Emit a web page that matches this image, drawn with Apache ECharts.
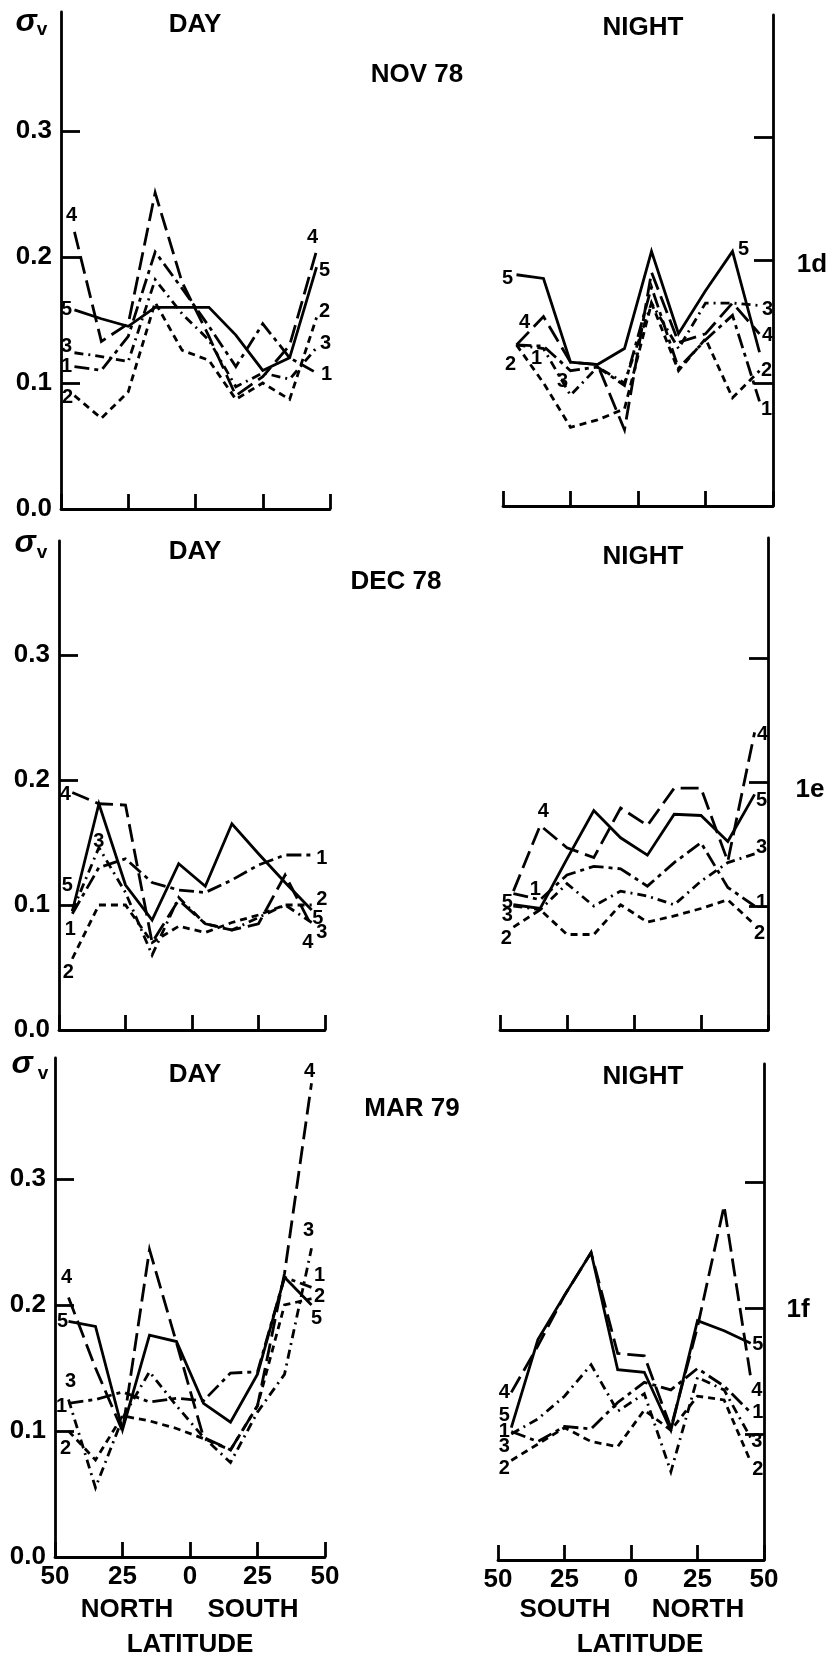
<!DOCTYPE html>
<html><head><meta charset="utf-8">
<script src="https://cdn.jsdelivr.net/npm/echarts@6/dist/echarts.min.js"></script>
<style>html,body{margin:0;padding:0;background:#fff}#c{width:834px;height:1659px}</style>
</head><body><div id="c"></div>
<script>
// ---------------- DATA ----------------
const latitudes = [-45, -35, -25, -15, -5, 5, 15, 25, 35, 45];
const seriesNames = ['1', '2', '3', '4', '5'];
const yTickLabels = [0, 0.1, 0.2, 0.3];
const yTickMarks = [0.1, 0.2, 0.3];
const xTickValues = [-50, -25, 0, 25, 50];
const columnTitles = ['DAY', 'NIGHT'];
const monthTitles = ['NOV 78', 'DEC 78', 'MAR 79'];
const figureTags = ['1d', '1e', '1f'];
const hemisDay = ['NORTH', 'SOUTH'];
const hemisNight = ['SOUTH', 'NORTH'];
const xAxisTitle = 'LATITUDE';
const yAxisSymbol = 'σ';
const yAxisSub = 'v';

// sigma_v per series 1..5, at the latitudes above
const novDay = [
  [0.113, 0.110, 0.137, 0.204, 0.175, 0.145, 0.113, 0.147, 0.120, 0.108],
  [0.090, 0.072, 0.093, 0.164, 0.126, 0.118, 0.087, 0.100, 0.087, 0.152],
  [0.124, 0.121, 0.117, 0.182, 0.155, 0.134, 0.097, 0.108, 0.103, 0.128],
  [0.220, 0.133, 0.147, 0.251, 0.180, 0.137, 0.090, 0.105, 0.130, 0.205],
  [0.158, 0.151, 0.145, 0.160, 0.160, 0.160, 0.138, 0.110, 0.120, 0.192]
];
const novNight = [
  [0.131, 0.130, 0.110, 0.113, 0.098, 0.178, 0.112, 0.135, 0.155, 0.085],
  [0.131, 0.100, 0.064, 0.070, 0.079, 0.165, 0.110, 0.136, 0.088, 0.110],
  [0.131, 0.128, 0.090, 0.113, 0.100, 0.165, 0.128, 0.165, 0.165, 0.163],
  [0.131, 0.154, 0.117, 0.115, 0.062, 0.190, 0.133, 0.140, 0.165, 0.140],
  [0.188, 0.185, 0.117, 0.115, 0.128, 0.207, 0.140, 0.175, 0.207, 0.125]
];
const decDay = [
  [0.093, 0.130, 0.137, 0.118, 0.112, 0.110, 0.120, 0.132, 0.140, 0.140],
  [0.057, 0.100, 0.100, 0.070, 0.083, 0.078, 0.086, 0.092, 0.100, 0.100],
  [0.095, 0.146, 0.110, 0.060, 0.106, 0.085, 0.080, 0.090, 0.100, 0.086],
  [0.190, 0.181, 0.180, 0.070, 0.104, 0.085, 0.080, 0.085, 0.124, 0.083],
  [0.095, 0.181, 0.116, 0.088, 0.133, 0.115, 0.165, 0.141, 0.118, 0.096]
];
const decNight = [
  [0.110, 0.105, 0.125, 0.132, 0.130, 0.116, 0.135, 0.151, 0.115, 0.100],
  [0.083, 0.097, 0.077, 0.077, 0.101, 0.087, 0.092, 0.098, 0.105, 0.085],
  [0.100, 0.097, 0.118, 0.100, 0.112, 0.108, 0.101, 0.120, 0.135, 0.142],
  [0.112, 0.165, 0.147, 0.139, 0.179, 0.165, 0.195, 0.195, 0.136, 0.240],
  [0.101, 0.098, 0.138, 0.177, 0.155, 0.141, 0.174, 0.173, 0.152, 0.190]
];
const marDay = [
  [0.122, 0.125, 0.131, 0.123, 0.126, 0.124, 0.146, 0.147, 0.222, 0.214],
  [0.100, 0.077, 0.112, 0.108, 0.102, 0.094, 0.085, 0.120, 0.200, 0.205],
  [0.125, 0.055, 0.110, 0.147, 0.120, 0.095, 0.075, 0.115, 0.145, 0.245],
  [0.206, 0.150, 0.100, 0.244, 0.170, 0.095, 0.085, 0.120, 0.225, 0.376],
  [0.187, 0.183, 0.101, 0.176, 0.171, 0.122, 0.107, 0.145, 0.222, 0.200]
];
const marNight = [
  [0.102, 0.094, 0.106, 0.104, 0.125, 0.141, 0.135, 0.152, 0.138, 0.117],
  [0.079, 0.092, 0.105, 0.094, 0.090, 0.119, 0.103, 0.130, 0.127, 0.078],
  [0.100, 0.112, 0.130, 0.155, 0.118, 0.132, 0.070, 0.145, 0.135, 0.097],
  [0.133, 0.170, 0.210, 0.244, 0.164, 0.162, 0.105, 0.185, 0.281, 0.145],
  [0.105, 0.175, 0.210, 0.244, 0.151, 0.149, 0.103, 0.190, 0.182, 0.172]
];
const panelData = [novDay, novNight, decDay, decNight, marDay, marNight];

// ---------------- LAYOUT / STYLE ----------------
const panels = [
  {left: 61,  right: 330, base: 509,  unit: 1260, top: 12,   side: 'left'},
  {left: 503, right: 773, base: 506,  unit: 1230, top: 15,   side: 'right'},
  {left: 59,  right: 325, base: 1030, unit: 1250, top: 541,  side: 'left'},
  {left: 500, right: 768, base: 1030, unit: 1240, top: 538,  side: 'right'},
  {left: 55,  right: 325, base: 1557, unit: 1260, top: 1058, side: 'left'},
  {left: 498, right: 764, base: 1560, unit: 1260, top: 1064, side: 'right'}
];
// label anchors per series: [startIdx, dx, dy, endIdx, dx, dy]
const labelLayout = [
  [[0,-8,0, 9,10,2],[0,-7,2, 9,8,-6],[0,-8,-6, 9,9,-4],[0,-3,-16, 9,-4,-13],[0,-8,0, 9,8,3]],
  [[0,20,14, 9,7,8],[0,-6,20, 9,7,0],[2,-8,-14, 9,8,4],[0,8,-22, 9,8,2],[0,-9,4, 8,11,-2]],
  [[0,-2,16, 9,10,3],[0,-4,14, 9,10,-6],[1,0,-6, 9,10,10],[0,-7,2, 9,-4,16],[0,-5,-26, 9,6,8]],
  [[0,22,-4, 9,7,-4],[0,-7,11, 9,5,9],[0,-6,9, 9,7,-6],[1,3,-14, 9,8,2],[0,-6,-2, 9,7,6]],
  [[0,-7,3, 9,8,-12],[0,-3,17, 9,8,-2],[0,2,-18, 9,-3,-18],[0,-2,-20, 9,-2,-12],[0,-6,0, 9,5,13]],
  [[0,-7,0, 9,7,0],[0,-7,8, 9,7,8],[0,-7,12, 9,6,4],[0,-7,0, 9,6,13],[0,-7,-12, 9,7,1]]
];
const dashes = [[15,5,4,5], [7,5], [9,5,2,5], [18,7], 'solid'];
const FONT = '"Liberation Sans", Arial, Helvetica, sans-serif';
const INK = '#000';
const LW = 2.8;
const AW = 2.8;

const grid = [], xAxis = [], yAxis = [], series = [];
panels.forEach((p, i) => {
  const row = Math.floor(i / 2);
  const yMax = (p.base - p.top) / p.unit;
  grid.push({left: p.left, top: p.top, width: p.right - p.left, height: p.base - p.top});
  xAxis.push({
    type: 'value', gridIndex: i, min: -50, max: 50,
    axisLine: {show: true, onZero: false, lineStyle: {color: INK, width: AW}},
    axisTick: {show: true, inside: true, length: 15, customValues: xTickValues, lineStyle: {color: INK, width: AW}},
    axisLabel: {show: row === 2, customValues: xTickValues, formatter: v => String(Math.abs(v)),
      color: INK, fontFamily: FONT, fontWeight: 'bold', fontSize: 26, margin: 7},
    splitLine: {show: false}
  });
  yAxis.push({
    type: 'value', gridIndex: i, min: 0, max: yMax, position: p.side,
    axisLine: {show: true, onZero: false, lineStyle: {color: INK, width: AW}},
    axisTick: {show: true, inside: true, length: 19, customValues: yTickMarks, lineStyle: {color: INK, width: AW}},
    axisLabel: {show: p.side === 'left', customValues: yTickLabels, formatter: v => v.toFixed(1),
      color: INK, fontFamily: FONT, fontWeight: 'bold', fontSize: 26, margin: 9},
    splitLine: {show: false}
  });
  const data = panelData[i];
  data.forEach((vals, s) => {
    series.push({
      type: 'line', xAxisIndex: i, yAxisIndex: i, silent: true,
      showSymbol: false, symbol: 'none',
      data: latitudes.map((lat, k) => [lat, vals[k]]),
      lineStyle: {color: INK, width: LW, type: dashes[s], cap: 'butt', join: 'miter'},
      z: 2
    });
  });
  const labels = [];
  data.forEach((vals, s) => {
    const L = labelLayout[i][s];
    [[L[0], L[1], L[2]], [L[3], L[4], L[5]]].forEach(([k, dx, dy]) => {
      labels.push({value: [latitudes[k], vals[k]], name: seriesNames[s],
        label: {offset: [dx, dy]}});
    });
  });
  series.push({
    type: 'scatter', xAxisIndex: i, yAxisIndex: i, silent: true, symbolSize: 0,
    itemStyle: {color: INK},
    data: labels, z: 5,
    label: {show: true, position: 'inside', formatter: q => q.name, color: INK,
      textBorderWidth: 0, textBorderColor: 'transparent', opacity: 1,
      fontFamily: FONT, fontWeight: 'bold', fontSize: 20}
  });
});

function txt(x, y, text, size, extra) {
  return Object.assign({type: 'text', x: x, y: y, silent: true, style: {
    text: text, fill: INK, font: 'bold ' + size + 'px ' + FONT,
    textAlign: 'center', textVerticalAlign: 'middle', align: 'center', verticalAlign: 'middle'}}, extra || {});
}
const graphic = [];
const rowTitleY = [[25, 28], [552, 557], [1075, 1077]];
const monthPos = [[417, 75], [396, 582], [412, 1109]];
const sigmaPos = [[26, 22, 42, 30], [25, 543, 42, 553], [22, 1064, 43, 1074]];
const tagPos = [[812, 265], [810, 790], [798, 1310]];
for (let r = 0; r < 3; r++) {
  graphic.push(txt(195, rowTitleY[r][0], columnTitles[0], 26));
  graphic.push(txt(643, rowTitleY[r][1], columnTitles[1], 26));
  graphic.push(txt(monthPos[r][0], monthPos[r][1], monthTitles[r], 26));
  graphic.push(txt(tagPos[r][0], tagPos[r][1], figureTags[r], 26));
  graphic.push({type: 'text', x: sigmaPos[r][0], y: sigmaPos[r][1], silent: true, style: {
    text: yAxisSymbol, fill: INK, font: 'italic bold 32px ' + FONT,
    textAlign: 'center', textVerticalAlign: 'middle', align: 'center', verticalAlign: 'middle'}});
  graphic.push(txt(sigmaPos[r][2], sigmaPos[r][3], yAxisSub, 19));
}
graphic.push(txt(127, 1610, hemisDay[0], 26));
graphic.push(txt(253, 1610, hemisDay[1], 26));
graphic.push(txt(190, 1645, xAxisTitle, 26));
graphic.push(txt(565, 1610, hemisNight[0], 26));
graphic.push(txt(698, 1610, hemisNight[1], 26));
graphic.push(txt(640, 1645, xAxisTitle, 26));

const chart = echarts.init(document.getElementById('c'), null, {renderer: 'canvas'});
chart.setOption({animation: false, backgroundColor: '#fff', grid, xAxis, yAxis, series, graphic});
</script>
</body></html>
